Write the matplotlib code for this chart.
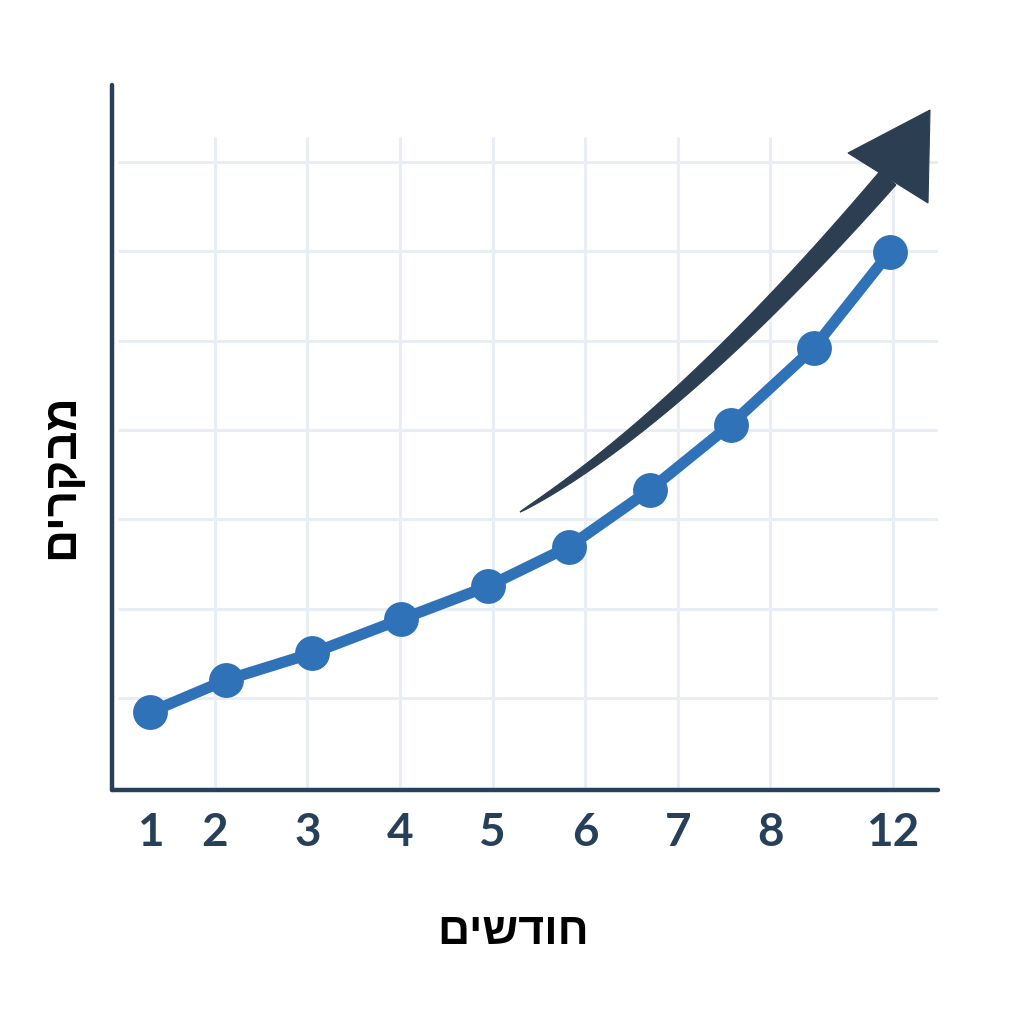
"""Recreate the growth line chart (visitors over months) with a trend arrow."""

import matplotlib

matplotlib.use("Agg")
import matplotlib.pyplot as plt
import numpy as np
from matplotlib.patches import Polygon

# data, in axis units (grid lines sit on whole numbers)
x_pos = [1.30, 2.12, 3.05, 4.01, 4.95, 5.82, 6.70, 7.57, 8.47, 9.29]
visitors = [0.84, 1.20, 1.50, 1.88, 2.25, 2.69, 3.33, 4.06, 4.92, 5.99]

tick_pos = [1.30, 2, 3, 4, 5, 6, 7, 8, 9.32]
tick_labels = ["1", "2", "3", "4", "5", "6", "7", "8", "12"]
grid_x = [2, 3, 4, 5, 6, 7, 8, 9.32]
grid_y = [1, 2, 3, 4, 5, 6, 7]

x_label = "חודשים"
y_label = "מבקרים"

LINE_BLUE = "#2f72b8"
AXIS_DARK = "#27405a"
ARROW_DARK = "#2b3e52"
GRID = "#e9eef5"
HEB_FONT = ["Liberation Sans", "DejaVu Sans"]


def rtl(s):
    # matplotlib has no bidi support, so feed Hebrew in visual order
    return s[::-1]


fig = plt.figure(figsize=(10.24, 10.24), dpi=100)
fig.patch.set_facecolor("white")
ax = fig.add_axes([112 / 1024, 1 - 790 / 1024, (938 - 112) / 1024, (790 - 85) / 1024])
ax.set_xlim(0.89, 9.81)
ax.set_ylim(-0.03, 7.86)

for gx in grid_x:
    ax.plot([gx, gx], [0, 7.28], color=GRID, linewidth=2.2, zorder=1, solid_capstyle="butt")
for gy in grid_y:
    ax.plot([0.95, 9.81], [gy, gy], color=GRID, linewidth=2.2, zorder=1, solid_capstyle="butt")

ax.plot(x_pos, visitors, color=LINE_BLUE, linewidth=8, zorder=3, solid_capstyle="round")
ax.scatter(x_pos, visitors, s=630, color=LINE_BLUE, zorder=4, linewidths=0)

for side in ["top", "right"]:
    ax.spines[side].set_visible(False)
for side in ["left", "bottom"]:
    ax.spines[side].set_color(AXIS_DARK)
    ax.spines[side].set_linewidth(3.2)
    ax.spines[side].set_capstyle("round")

ax.set_xticks(tick_pos)
ax.set_xticklabels(tick_labels, fontsize=33, fontweight="bold", color=AXIS_DARK, family="Lato")
ax.tick_params(axis="x", length=0, pad=16)
ax.set_yticks([])

fig.text(513 / 1024, 1 - 933 / 1024, rtl(x_label), ha="center", va="center",
         fontsize=32, fontweight="bold", family=HEB_FONT, color="black")
fig.text(61 / 1024, 1 - 476 / 1024, rtl(y_label), ha="center", va="center", rotation=90,
         fontsize=33, fontweight="bold", family=HEB_FONT, color="black")

# trend arrow drawn in pixel space on a full-figure overlay
ov = fig.add_axes([0, 0, 1, 1], facecolor="none")
ov.set_xlim(0, 1024)
ov.set_ylim(1024, 0)
ov.axis("off")

p0 = np.array([520.0, 512.0])
p1 = np.array([680.0, 418.0])
p2 = np.array([888.0, 178.0])
t = np.linspace(0, 1, 120)[:, None]
centre = (1 - t) ** 2 * p0 + 2 * t * (1 - t) * p1 + t ** 2 * p2
tangent = 2 * (1 - t) * (p1 - p0) + 2 * t * (p2 - p1)
tangent /= np.linalg.norm(tangent, axis=1, keepdims=True)
normal = np.column_stack([-tangent[:, 1], tangent[:, 0]])
half_w = (10.5 * t[:, 0] ** 0.65)[:, None]
left_edge = centre + normal * half_w
right_edge = centre - normal * half_w
shaft = np.vstack([left_edge, right_edge[::-1]])
ov.add_patch(Polygon(shaft, closed=True, facecolor=ARROW_DARK, edgecolor=ARROW_DARK, linewidth=0.8, zorder=5))
ov.add_patch(Polygon([(848, 153), (930, 110), (928, 203)], closed=True,
                     facecolor=ARROW_DARK, edgecolor=ARROW_DARK, linewidth=0.8, zorder=5))

fig.savefig("out.png", dpi=100, facecolor="white")
plt.close(fig)
